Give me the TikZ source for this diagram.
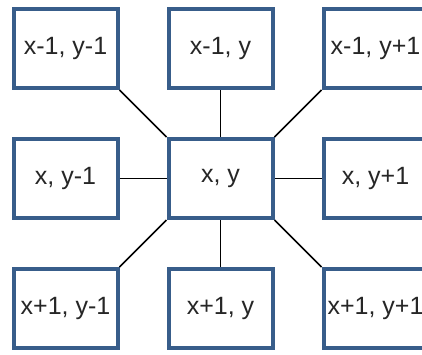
\documentclass[tikz,border=0pt]{standalone}
\usepackage{fontspec}
\setmainfont{Liberation Sans}
\usetikzlibrary{positioning}

\definecolor{cellblue}{RGB}{56,93,138}
\definecolor{celltext}{RGB}{38,38,38}

\begin{document}
\begin{tikzpicture}[
  x=1pt, y=-1pt,
  node distance=47pt and 47pt,
  cell/.style={rectangle, draw=cellblue, line width=4pt, fill=white, text=celltext,
    minimum width=104pt, minimum height=79pt, inner sep=0pt,
    font=\fontsize{25}{30}\selectfont},
  link/.style={draw=black, line width=1.6pt}
]
\useasboundingbox (0,0) rectangle (422,354);
\clip (0,0) rectangle (422,354);

\node[cell] (mid) at (220.5,178.5) {x, y};
\node[cell, above left=of mid] (nw) {x-1, y-1};
\node[cell, above=of mid] (n) {x-1, y};
\node[cell, above right=of mid] (ne) {x-1, y+1};
\node[cell, left=of mid] (w) {x, y-1};
\node[cell, right=of mid] (e) {x, y+1};
\node[cell, below left=of mid] (sw) {x+1, y-1};
\node[cell, below=of mid] (s) {x+1, y};
\node[cell, below right=of mid] (se) {x+1, y+1};

\draw[link] (nw.south east) -- (mid.north west);
\draw[link] (n) -- (mid);
\draw[link] (ne.south west) -- (mid.north east);
\draw[link] (w) -- (mid);
\draw[link] (e) -- (mid);
\draw[link] (sw.north east) -- (mid.south west);
\draw[link] (s) -- (mid);
\draw[link] (se.north west) -- (mid.south east);
\end{tikzpicture}
\end{document}
